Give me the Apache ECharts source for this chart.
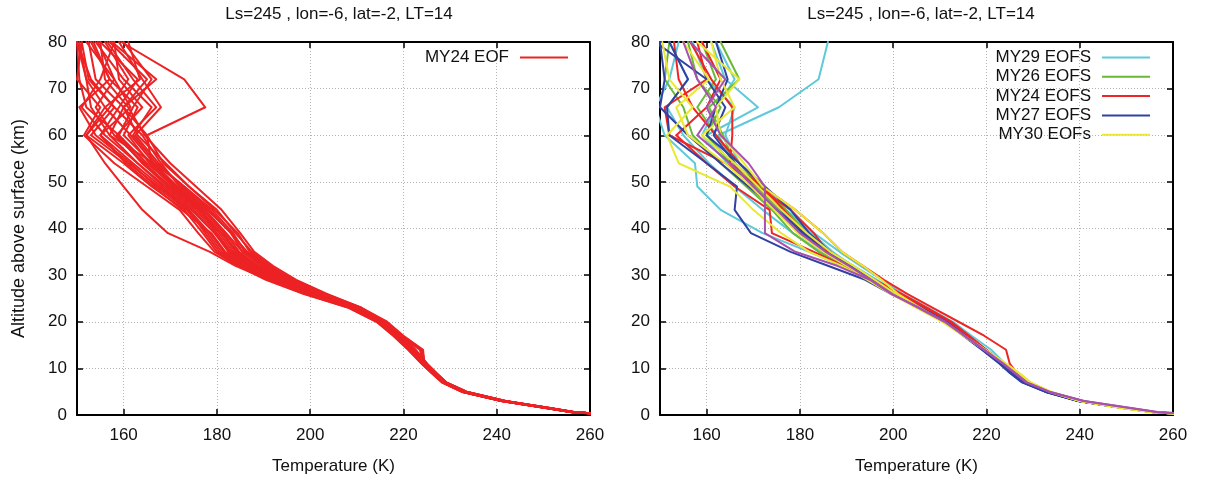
<!DOCTYPE html>
<html>
<head>
<meta charset="utf-8">
<script src="https://cdn.jsdelivr.net/npm/echarts@6/dist/echarts.min.js"></script>
<style>html,body{margin:0;padding:0;background:#fff}#c{width:1210px;height:482px}</style>
</head>
<body>
<div id="c"></div>
<script>
// ---- data ----
const TITLE = 'Ls=245 , lon=-6, lat=-2, LT=14';
const X_NAME = 'Temperature (K)';
const Y_NAME = 'Altitude above surface (km)';
const X_TICKS = [160, 180, 200, 220, 240, 260];
// altitude levels (km) shared by every profile
const ALT = [0.3, 0.6, 1.5, 3, 5, 7, 9, 11, 14, 17, 20, 23, 26, 29, 32, 35, 39, 44, 49, 54, 60, 66, 72, 80];

// Left panel: MY24 EOF profiles (temperature K at ALT levels)
const MY24_EOF = [
  [261,256.5,251,241.5,233,228.8,226.5,224.5,221.8,218.8,215.2,209.5,200.5,193.5,187.5,183.5,180.5,176,170,164.5,158,154,158,152],
  [261,256,250.5,241,232.5,228.4,226.2,224,221.2,218,214.5,208.5,199.5,192,186,181.5,178.5,174,168,162,155,159,163,155],
  [261,257,251.5,242,233.6,229.2,227,225,222.5,219.5,216,210.5,202,195,189.5,185.5,182,177.5,171.5,166,160,163,157,153],
  [261,256.5,251,241.6,233.2,228.9,226.8,224.5,224.2,220,216.5,211,203,196.5,191,186.5,183,178,172,168,164,158,153,150],
  [261,256.2,250.7,241.2,232.7,228.5,226.4,224.6,223.8,219.5,215.8,210,201,194,188.5,184.5,181,176.5,171,166,165,177.5,173,159.5],
  [261,256.4,250.8,241.3,232.8,228.6,226.3,224.2,221.5,218.2,214.6,208.8,199,191.5,185,180,177,173,166,160,152,157,161,156],
  [261,256.8,251.3,241.8,233.4,229,226.8,224.8,222.2,219.2,215.6,210.2,201.8,195.5,190.5,186,183.5,179,173,167,162,166,160,154],
  [261,256.3,250.6,241.1,232.6,228.4,226.1,224.1,221.4,218.4,214.8,209,200,193,187,182.5,179.5,175,169,163,156,151,155,158],
  [261,256.7,251.2,241.7,233.3,229.1,226.9,224.9,222.4,219.4,215.9,210.6,202.5,196,191.5,187.5,184,180,174,169,163,160,165,157],
  [261,256.1,250.4,240.9,232.4,228.2,226,223.9,221,217.8,214.2,208.2,198.5,190.5,184.5,179.5,176,172,165,158,151.5,155,150,151],
  [261,256.6,251.1,241.5,233.1,228.8,226.6,224.6,222,219,215.5,209.8,201.2,194.5,188.5,184,181.5,177,171,165,159,162,166,160],
  [261,256.4,250.9,241.4,232.9,228.7,226.4,224.4,221.7,218.6,215,209.2,200.2,193,187,183,179.5,174.5,168.5,163,157,153,152,150],
  [261,256.9,251.4,241.9,233.5,229.2,227.1,225.1,222.6,219.6,216.2,211,203.5,197,192,188,185,181,175.5,170,164.5,161,156,155],
  [261,256.5,251,241.5,233,228.8,226.5,224.5,223.5,219.3,215.6,209.9,200.8,194,188,184,181,176,170.5,165.5,161,167,162,156.5],
  [261,256.2,250.6,241,232.5,228.3,226.2,224.1,221.3,218.1,214.5,208.6,199.2,192,185.5,181,178,173.5,167,161.5,154,150.5,157,153.5],
  [261,256.3,250.7,241.2,232.7,228.5,226.3,224.3,221.6,218.5,214.9,209,199.8,191,184,178.5,169.5,164,160,156,152,156,152,150.5],
  [261,256.7,251.2,241.7,233.3,229,226.8,224.8,222.3,219.3,215.8,210.4,202,195.5,190,185.5,183,178.5,173,166.5,157,160,154,152.5],
  [261,256.5,250.9,241.4,233,228.7,226.5,224.5,221.9,218.9,215.3,209.6,200.6,193.8,187.8,183,180,175.5,169.5,164,158.5,164,159,158],
  [261,256.6,251.1,241.6,233.2,228.9,226.7,224.7,222.1,219.1,215.7,210.1,201.4,194.8,189,184.8,181.8,177,171.5,166.5,161.5,156,163.5,161],
  [261,256.2,250.5,241,232.5,228.3,226.1,224,221.1,217.9,214.3,208.4,198.8,191.2,185.2,180.5,177.5,174,167.5,161,153,158,152.5,151],
  [261,256.8,251.3,241.8,233.4,229.1,226.9,224.9,222.4,219.5,216,210.8,203,196.5,191,187,184.5,179.5,174,168.5,165,160,167,157.5],
  [261,256.4,250.8,241.3,232.8,228.6,226.4,224.3,221.6,218.5,214.9,209.1,200,192.8,186.8,182.5,179.8,176.5,170,164,159,152,150.5,150],
  [261,256.3,250.7,241.2,232.7,228.5,226.2,224.2,221.4,218.3,214.7,208.9,199.6,192.5,186.5,181.8,178.8,172.5,166.5,160.5,155,161.5,158,154.5],
  [261,256.6,251,241.5,233.1,228.8,226.6,224.6,224,219.8,216.2,210.6,202.2,195.8,190.2,186.2,183.2,178,172.5,167.5,162.5,168,164,159]
];

// Right panel profiles
const MY29_EOFS = [
  [261,256.2,249.8,240.3,233.3,228.8,226.3,223.8,220,216,212,207,201.5,196.5,191.5,186.5,181,175.5,170,166,162.5,175.5,184,186],
  [261,256,249.6,240.1,233.1,228.6,226.1,223.6,219.8,215.8,211.8,206.5,201,196,191,186,181,176,171,165.5,160,171,164,161],
  [261,255.8,249.2,239.7,232.7,228.2,225.7,223.2,219.2,215.2,211,205.5,200,194.5,189,182,172,163,158,157.5,151,149,152,154],
  [261,256.3,250,240.5,233.5,229,226.5,224,221,216.8,212.8,207.5,202,197.5,193,188.5,183,177,172,167,164,166,160,157],
  [261,255.9,249.4,239.9,232.9,228.4,225.9,223.4,219.5,215.5,211.5,206.2,200.8,195.5,190,184.5,178.5,172,166,160.5,155,151.5,156,152],
  [261,256.1,249.7,240.2,233.2,228.7,226.2,223.7,219.9,215.9,211.9,206.8,201.3,196.2,191.3,187,182.5,176,170.5,164.5,159,162,166,162]
];
const MY26_EOFS = [
  [261,256,249.5,240,233,228.4,225.9,223.4,219.4,215.4,211.4,205.8,200.2,195,190,185.5,180,175.5,170,166,163.5,160.5,167,163],
  [261,256.1,249.6,240.1,233.1,228.6,226,223.5,219.6,215.6,211.6,206.2,200.6,195.8,191,186.5,181.5,177,171.5,167,162,158,162,159],
  [261,255.9,249.4,239.9,232.9,228.3,225.8,223.3,219.3,215.3,211.2,205.6,199.8,194.5,189,184,178.5,174,168.5,163,157,155,151,152],
  [261,256,249.5,240,233,228.5,226,223.5,219.5,215.5,211.5,206,200.5,195.5,190.5,185.5,180.5,176,170.5,165,160,163,158,156]
];
const MY24_EOFS = [
  [261,256,249.5,240,233,228.5,226,223.6,219.8,216,212.2,207,201.5,195.2,190,186,183,178,171,164,152,151,160,158],
  [261,256.1,249.6,240.1,233.1,228.6,226.1,223.7,220,216.3,212.5,207.3,201.8,196,191,186.5,181,176.5,172,165,165.5,165.5,161,156.5],
  [261,255.9,249.4,239.9,232.9,228.4,225.9,223.4,219.6,215.8,211.8,206.6,200.8,195,189.5,183,174,173.5,166,160,153.5,160,163,159],
  [261,256.2,249.8,240.3,233.3,228.8,226.5,225,224.2,219.5,214,208.5,203,198,193.5,189,185,179,172,167,162,157,154,153]
];
const MY27_EOFS = [
  [261,255.8,249.2,239.6,232.5,227.6,225,222.8,219,215,211,205.5,200,195,190,185,180.5,176,171,166,161.5,164,160,149],
  [261,255.9,249.3,239.7,232.6,227.8,225.2,223,219.2,215.2,211.2,205.6,199.5,194,186,178,169.5,166,166.5,160,152,151.5,156,152],
  [261,256,249.4,239.8,232.8,228,225.4,223.2,219.4,215.4,211.4,206,200.5,195.5,191,186.5,182,178,172.5,167,160,162,164.5,162],
  [261,255.9,249.3,239.7,232.7,227.9,225.3,223.1,219.3,215.3,211.3,205.8,200.2,195.2,190.2,185.5,181,175,169,163,156,150,151,150]
];
const MY30_EOFS = [
  [261,255.5,249,240,233.5,229.2,226.8,224,219.5,215,210.5,205,199.5,194.5,189,182,176,170,165,154,151.5,157,152,150.5],
  [261,255.7,249.2,240.3,233.8,229.5,227,224.2,219.8,215.2,210.8,205.8,201,197.5,193.5,189,185,179,172,168,163,162,167,158],
  [261,255.6,249.1,240.1,233.6,229.3,226.9,224.1,219.6,215.1,210.6,205.3,200,195,190,185,179.5,174.5,169.5,164,156,153.5,160.5,155],
  [261,255.8,249.3,240.2,233.7,229.4,227,224.2,219.7,215.3,210.9,205.6,200.5,196,191.5,186.5,181.5,176,171,166,159,166,163,161]
];
const OTHER_EOFS = [
  [262,257,251,241,233.5,228.7,226.2,223.7,219.6,215.4,211.2,205.6,199.5,195,188,179,172.5,172.5,172.5,169,163,160,164,156.5],
  [262,256.8,250.8,240.8,233.3,228.5,226,223.5,219.4,215.2,211,205.4,199.8,195.2,190.5,185.5,180,175,170,165,158,162,158,155]
];

// ---- chart ----
const FONT = 'Liberation Sans, Arial, sans-serif';
const TXT = '#111';
const LW = 2;
const chart = echarts.init(document.getElementById('c'), null, {renderer: 'canvas'});

function toPairs(temps) { return temps.map((t, i) => [t, ALT[i]]); }

function makeSeries(name, profiles, color, axisIdx, width) {
  return profiles.map(p => ({
    type: 'line', name: name, xAxisIndex: axisIdx, yAxisIndex: axisIdx,
    data: toPairs(p), showSymbol: false, symbol: 'none', clip: true,
    lineStyle: {color: color, width: width, join: 'round', cap: 'round'}, itemStyle: {color: color},
    emphasis: {disabled: true}, silent: true, animation: false
  }));
}

const frameLine = {show: true, onZero: false, lineStyle: {color: '#000', width: 2}};
const tickStyle = {color: '#000', width: 1.5};
const gridLine = {show: true, lineStyle: {color: '#b4b4b4', width: 1, type: [1, 2]}};

function xPair(g) {
  return [
    {type: 'value', gridIndex: g, min: 150, max: 260, position: 'bottom',
     name: X_NAME, nameLocation: 'middle', nameGap: 43,
     nameTextStyle: {fontSize: 17, color: TXT, fontFamily: FONT},
     axisLine: frameLine,
     axisTick: {show: true, inside: true, length: 6, customValues: X_TICKS, lineStyle: tickStyle},
     axisLabel: {customValues: X_TICKS, fontSize: 17, color: TXT, margin: 12, fontFamily: FONT},
     splitLine: gridLine},
    {type: 'value', gridIndex: g, min: 150, max: 260, position: 'top',
     axisLine: frameLine,
     axisTick: {show: true, inside: true, length: 6, customValues: X_TICKS, lineStyle: tickStyle},
     axisLabel: {show: false}, splitLine: {show: false}}
  ];
}
function yPair(g, withName) {
  const left = {type: 'value', gridIndex: g, min: 0, max: 80, interval: 10, position: 'left',
     axisLine: frameLine,
     axisTick: {show: true, inside: true, length: 6, lineStyle: tickStyle},
     axisLabel: {fontSize: 17, color: TXT, margin: 10, fontFamily: FONT},
     splitLine: gridLine};
  if (withName) {
    left.name = Y_NAME; left.nameLocation = 'middle'; left.nameGap = 49; left.nameRotate = 90;
    left.nameTextStyle = {fontSize: 18, color: TXT, fontFamily: FONT};
  }
  return [left,
    {type: 'value', gridIndex: g, min: 0, max: 80, interval: 10, position: 'right',
     axisLine: frameLine,
     axisTick: {show: true, inside: true, length: 6, lineStyle: tickStyle},
     axisLabel: {show: false}, splitLine: {show: false}}];
}

const legendBase = {orient: 'horizontal', align: 'right', icon: 'rect', itemWidth: 48, itemHeight: 2,
  padding: 0, selectedMode: false,
  textStyle: {fontSize: 17, color: TXT, fontFamily: FONT, padding: [0, 6, 0, 0]}};
const RIGHT_NAMES = ['MY29 EOFS', 'MY26 EOFS', 'MY24 EOFS', 'MY27 EOFS', 'MY30 EOFs'];

const series = [].concat(
  makeSeries('MY24 EOF', MY24_EOF, '#ec2224', 0, LW),
  makeSeries('MY29 EOFS', MY29_EOFS, '#5ec9da', 2, LW),
  makeSeries('MY26 EOFS', MY26_EOFS, '#69b936', 2, LW),
  makeSeries('MY24 EOFS', MY24_EOFS, '#ee2525', 2, LW),
  makeSeries('MY27 EOFS', MY27_EOFS, '#3142a3', 2, LW),
  makeSeries('MY30 EOFs', MY30_EOFS, '#e9e935', 2, LW),
  makeSeries('other', OTHER_EOFS, '#a850ae', 2, LW)
);

chart.setOption({
  animation: false,
  backgroundColor: '#fff',
  title: [
    {text: TITLE, left: 334, top: 1, textAlign: 'center',
     textStyle: {fontSize: 17, fontWeight: 'normal', color: TXT, fontFamily: FONT}},
    {text: TITLE, left: 916, top: 1, textAlign: 'center',
     textStyle: {fontSize: 17, fontWeight: 'normal', color: TXT, fontFamily: FONT}}
  ],
  legend: [Object.assign({}, legendBase, {data: ['MY24 EOF'], right: 642, top: 49})]
    .concat(RIGHT_NAMES.map((n, i) => Object.assign({}, legendBase, {data: [n], right: 60, top: 49 + i * 19.3}))),
  grid: [
    {left: 77, right: 620, top: 42, bottom: 67},
    {left: 660, right: 37, top: 42, bottom: 67}
  ],
  xAxis: [].concat(xPair(0), xPair(1)),
  yAxis: [].concat(yPair(0, true), yPair(1, false)),
  series: series
});
</script>
</body>
</html>
